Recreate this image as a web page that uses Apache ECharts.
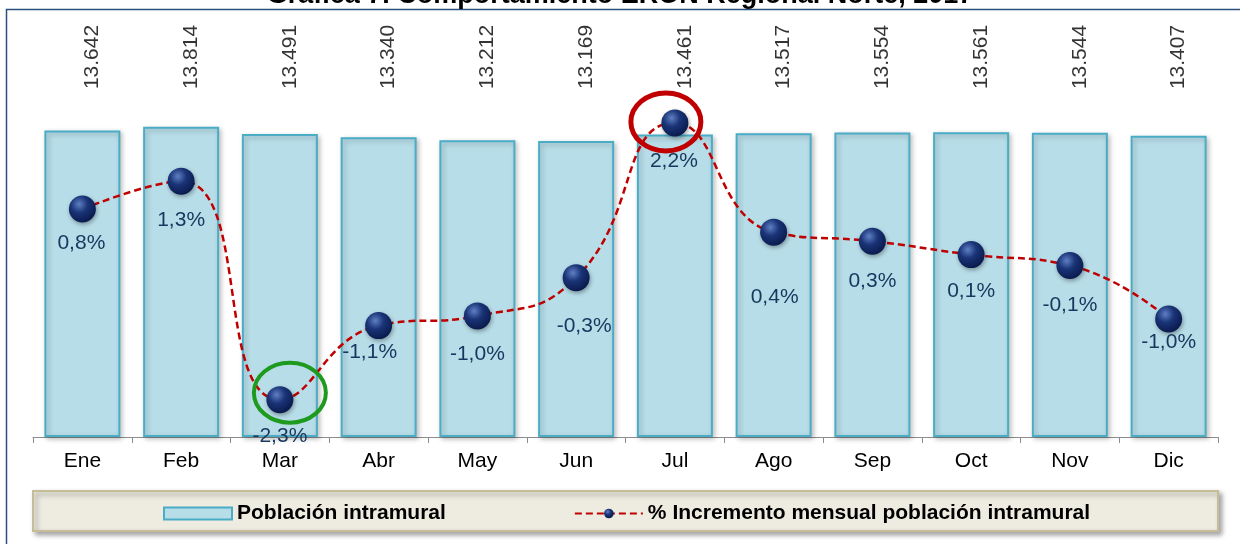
<!DOCTYPE html>
<html>
<head>
<meta charset="utf-8">
<title>Población intramural</title>
<script src="https://cdn.jsdelivr.net/npm/echarts@6/dist/echarts.min.js"></script>
<style>
    html, body { margin: 0; padding: 0; background: #fff; }
    #main { width: 1240px; height: 544px; }
</style>
</head>
<body>
<div id="main"></div>
<script>
'use strict';

// ===== datos =====
var meses = ['Ene', 'Feb', 'Mar', 'Abr', 'May', 'Jun', 'Jul', 'Ago', 'Sep', 'Oct', 'Nov', 'Dic'];
var poblacion = [13642, 13814, 13491, 13340, 13212, 13169, 13461, 13517, 13554, 13561, 13544, 13407];
var incremento = [0.8, 1.26, -2.34, -1.12, -0.96, -0.33, 2.22, 0.42, 0.27, 0.05, -0.13, -1.01];

// ajuste manual de cada etiqueta de porcentaje (como en la gráfica original)
var ajusteEtiqueta = [[-1, 10], [0, 15], [0, 13], [-9, 3], [0, 14], [8, 25],
                      [-1, 14], [1, 41], [0, 16], [0, 13], [0, 16], [0, -1]];

var fuente = 'Arial, "Liberation Sans", sans-serif';
var alturaEtiquetas = 15530;   // nivel fijo donde arrancan los rótulos de población

function miles(v) {
    var r = String(v % 1000);
    while (r.length < 3) r = '0' + r;
    return Math.floor(v / 1000) + '.' + r;
}
function pct(v) {
    return v.toFixed(1).replace('.', ',') + '%';
}

var chart = echarts.init(document.getElementById('main'));

var bola = new echarts.graphic.RadialGradient(0.38, 0.32, 0.7, [
    {offset: 0, color: '#5f7fc4'},
    {offset: 0.45, color: '#1a3477'},
    {offset: 1, color: '#0a1a4d'}
]);

var option = {
    animation: false,
    backgroundColor: '#fff',
    title: {
        text: 'Gráfica 7. Comportamiento ERON Regional Norte, 2017',
        left: 'center',
        top: -23,
        textStyle: {fontFamily: fuente, fontWeight: 'bold', fontSize: 27, color: '#000'}
    },
    grid: {left: 33, right: 22, top: 20, bottom: 107},
    legend: {
        left: 163,
        top: 503,
        padding: 0,
        z: 20,
        itemWidth: 68,
        itemHeight: 12,
        itemGap: 128,
        textStyle: {fontFamily: fuente, fontWeight: 'bold', fontSize: 21, color: '#000'},
        data: [
            {name: 'Población intramural', icon: 'rect'},
            {name: '% Incremento mensual población intramural'}
        ]
    },
    xAxis: {
        type: 'category',
        data: meses,
        axisLine: {lineStyle: {color: '#8c8c8c', width: 1}},
        axisTick: {show: true, length: 6, lineStyle: {color: '#8c8c8c'}},
        axisLabel: {color: '#000', fontFamily: fuente, fontSize: 21, margin: 14}
    },
    yAxis: [
        {type: 'value', min: 0, max: 18560, show: false, splitLine: {show: false}},
        {type: 'value', min: -2.955, max: 3.915, show: false, splitLine: {show: false}}
    ],
    series: [
        {
            name: 'Población intramural',
            type: 'bar',
            barWidth: 76,
            data: poblacion,
            itemStyle: {
                color: '#b7dde8',
                borderColor: '#4bacc6',
                borderWidth: 2,
                shadowBlur: 5,
                shadowOffsetX: 2,
                shadowOffsetY: 2,
                shadowColor: 'rgba(0,0,0,0.25)'
            }
        },
        {
            // rótulos verticales con la población de cada mes
            name: 'rotulos',
            type: 'scatter',
            silent: true,
            symbolSize: 0,
            data: meses.map(function (m) { return [m, alturaEtiquetas]; }),
            label: {
                show: true,
                position: 'inside',
                rotate: 90,
                align: 'left',
                verticalAlign: 'middle',
                offset: [-1, 10],
                fontFamily: fuente,
                fontSize: 21,
                color: '#000',
                formatter: function (p) { return miles(poblacion[p.dataIndex]); }
            }
        },
        {
            name: '% Incremento mensual población intramural',
            type: 'line',
            yAxisIndex: 1,
            smooth: 0.5,
            symbol: 'circle',
            symbolSize: 27,
            z: 5,
            data: incremento.map(function (v, i) {
                return {
                    value: v,
                    label: {offset: ajusteEtiqueta[i]}
                };
            }),
            lineStyle: {color: '#c00000', width: 2.5, type: [7, 4]},
            itemStyle: {
                color: bola,
                borderWidth: 0,
                shadowBlur: 4,
                shadowOffsetX: 1,
                shadowOffsetY: 2,
                shadowColor: 'rgba(0,0,0,0.35)'
            },
            label: {
                show: true,
                position: 'bottom',
                distance: 0,
                fontFamily: fuente,
                fontSize: 21,
                color: '#17375e',
                formatter: function (p) { return pct(p.value); }
            }
        }
    ]
};
chart.setOption(option);

// ===== marco, caja de leyenda y óvalos de máximo / mínimo =====
var pMar = chart.convertToPixel({xAxisIndex: 0, yAxisIndex: 1}, ['Mar', incremento[2]]);
var pJul = chart.convertToPixel({xAxisIndex: 0, yAxisIndex: 1}, ['Jul', incremento[6]]);

chart.setOption({
    graphic: [
        {
            type: 'polyline', z: 1, silent: true,
            shape: {points: [[6.5, 544], [6.5, 9.5], [1240, 9.5]]},
            style: {stroke: '#2b4f7e', lineWidth: 1.5, fill: null}
        },
        {
            type: 'rect', z: 1, silent: true,
            shape: {x: 33, y: 491, width: 1185, height: 40},
            style: {
                fill: '#eeece1', stroke: '#c4bd97', lineWidth: 2,
                shadowBlur: 5, shadowOffsetX: 3, shadowOffsetY: 3, shadowColor: 'rgba(0,0,0,0.35)'
            }
        },
        {
            type: 'ellipse', z: 50, silent: true,
            shape: {cx: pMar[0] + 10, cy: pMar[1] - 7, rx: 36, ry: 30},
            style: {stroke: '#1e9a1e', lineWidth: 4, fill: null}
        },
        {
            type: 'ellipse', z: 50, silent: true,
            shape: {cx: pJul[0] - 9, cy: pJul[1] - 1, rx: 35, ry: 29},
            style: {stroke: '#c00000', lineWidth: 5, fill: null}
        }
    ]
});
</script>
</body>
</html>
